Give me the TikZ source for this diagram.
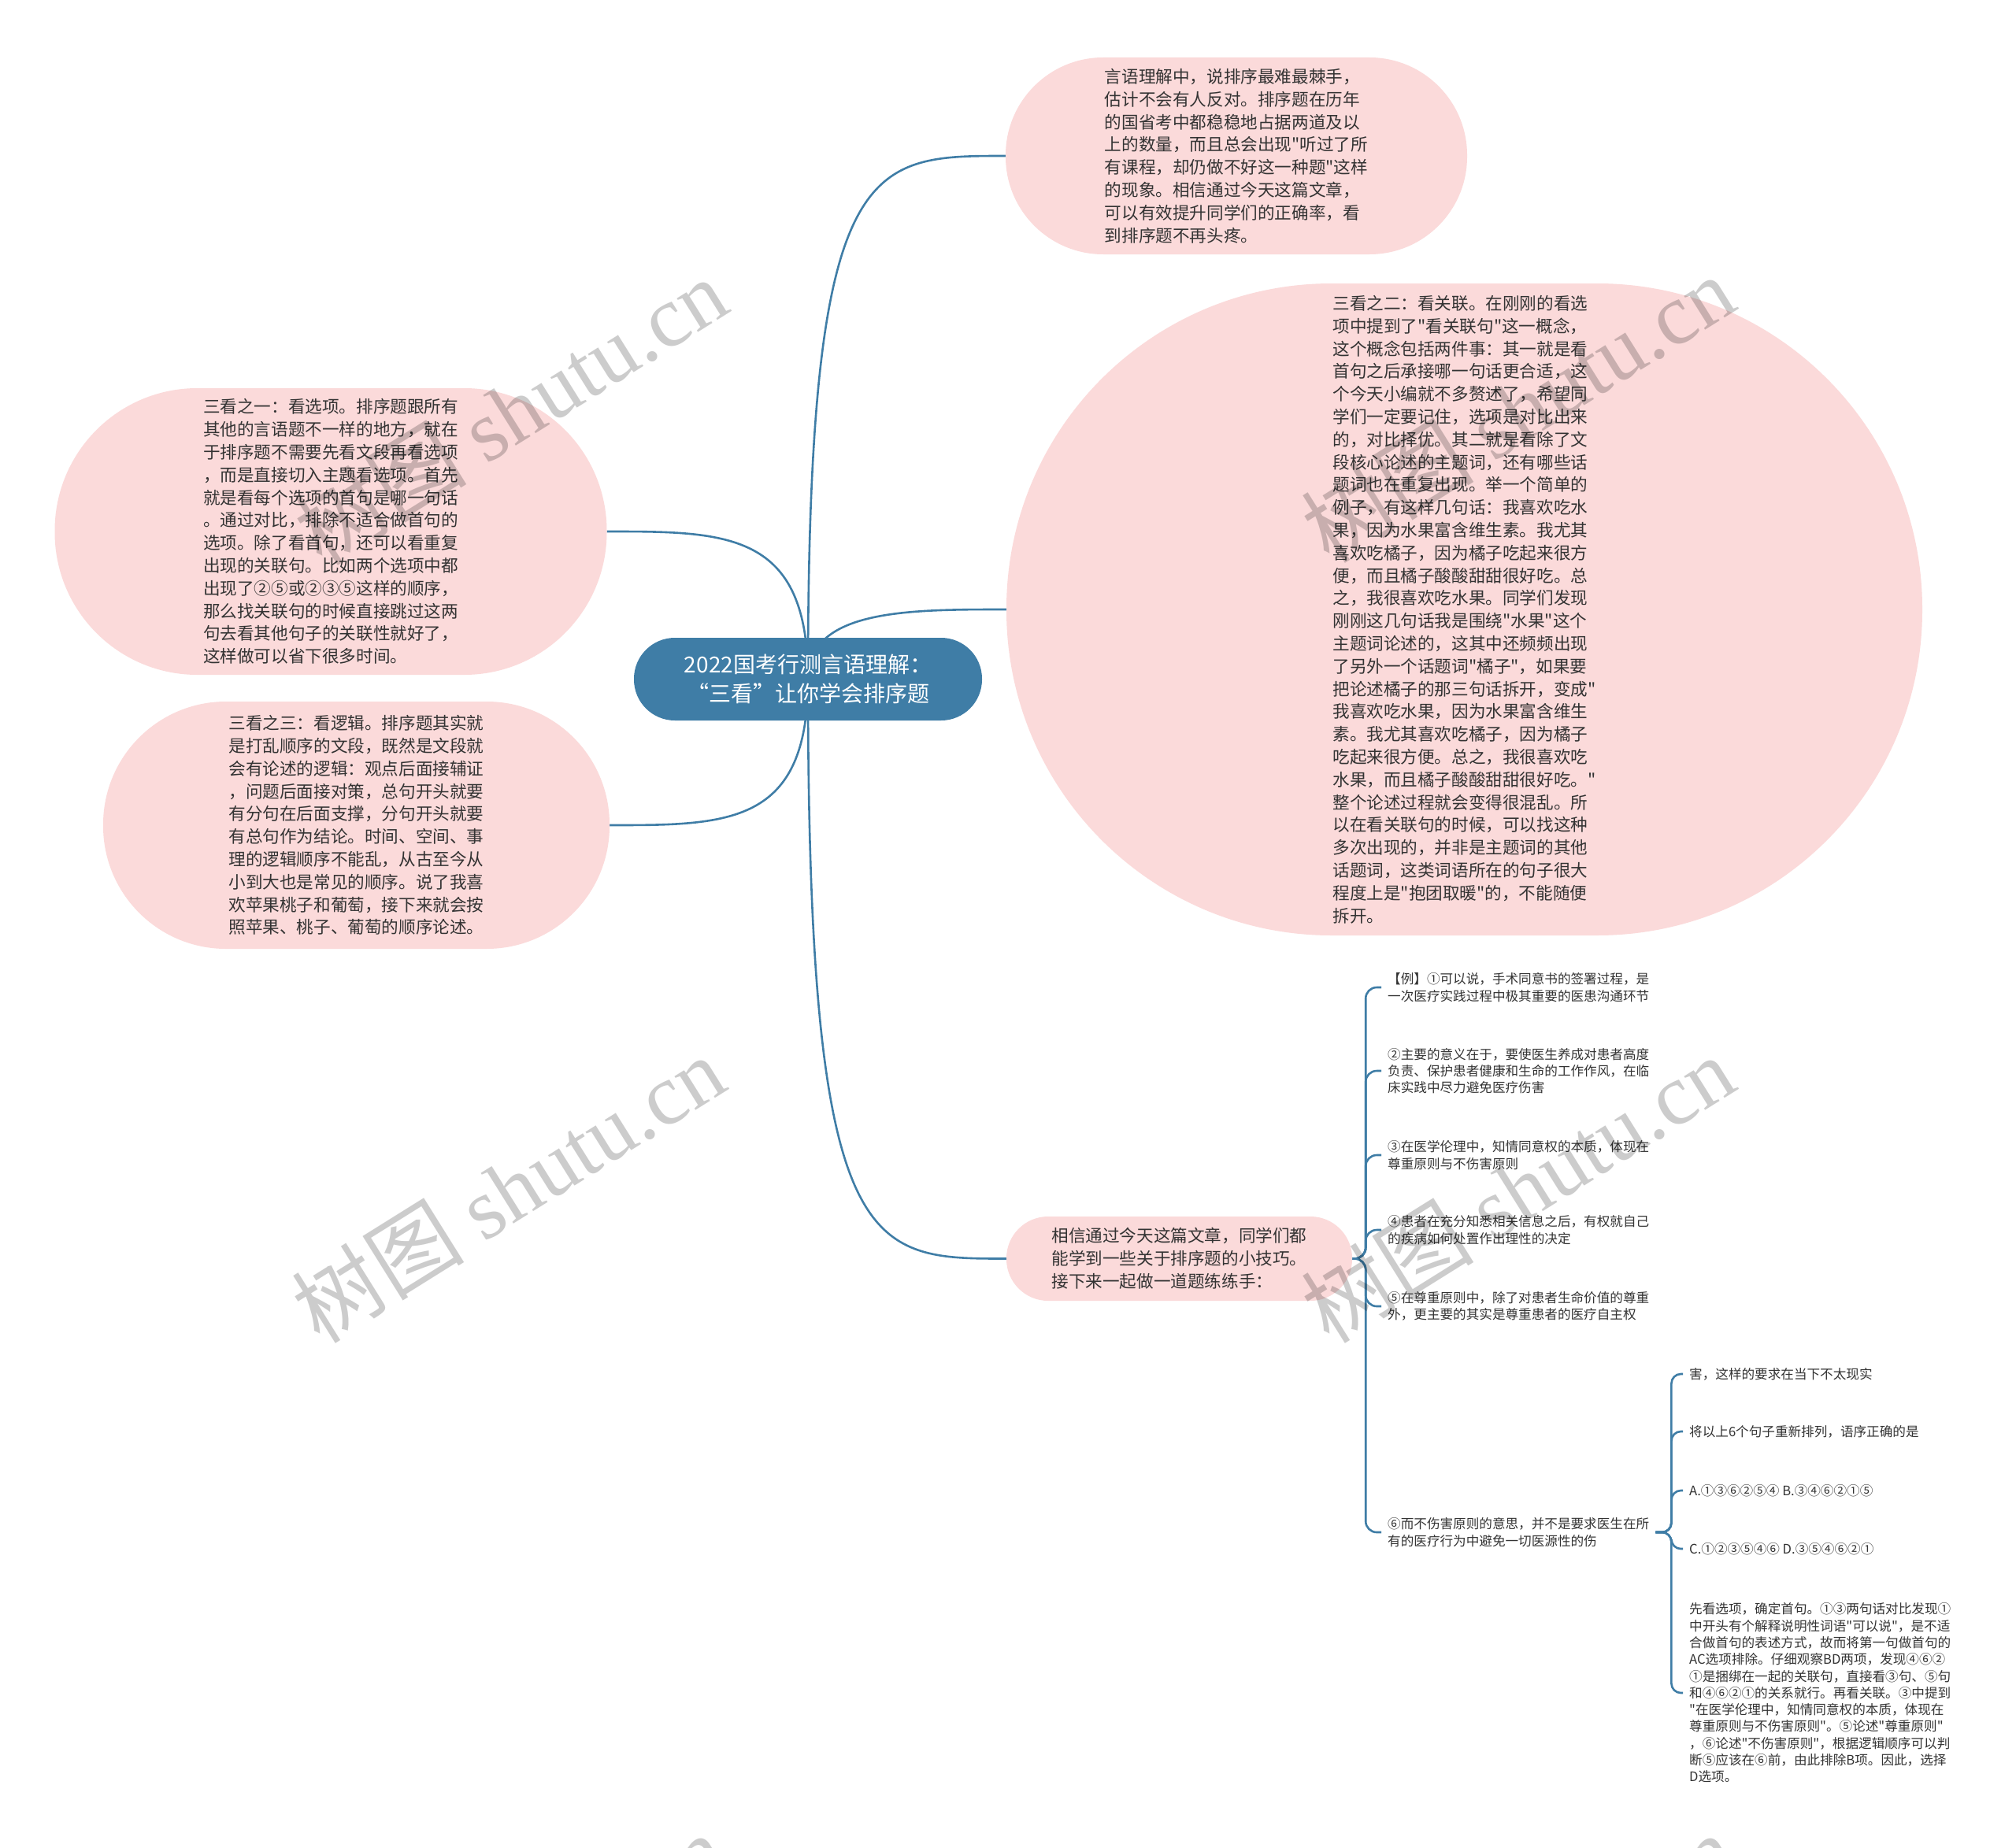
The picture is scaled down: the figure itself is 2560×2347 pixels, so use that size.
\documentclass[tikz,border=0pt]{standalone}
\usepackage{fontspec}
\setmainfont{Noto Sans CJK SC}[Ligatures=TeXOff]
\newfontfamily\wmcjk{Noto Sans CJK SC}
\newfontfamily\wmlat{Liberation Serif}
\usetikzlibrary{backgrounds,calc}
\definecolor{pinkbg}{HTML}{FBDADA}
\definecolor{mainblue}{HTML}{3F7DA6}
\definecolor{txt}{HTML}{333333}
\newcommand{\fwq}[1]{{\addfontfeature{CharacterWidth=Full}#1}}
\begin{document}
\begin{tikzpicture}[x=1pt,y=-1pt,
  bubble/.style={rectangle, fill=pinkbg, draw=none, text=txt, align=left, inner sep=0pt,
    font=\fontsize{21.6}{28.8}\selectfont},
  rootbox/.style={rectangle, fill=mainblue, draw=none, text=white, align=center, inner sep=0pt,
    font=\fontsize{28}{37}\selectfont},
  itemtext/.style={text=txt, align=left, inner xsep=8pt, inner ysep=0pt, anchor=west,
    font=\fontsize{16.6}{21.3}\selectfont},
  conn/.style={draw=mainblue, line width=2.6pt},
  wm/.style={rotate=32, text=black, opacity=0.2, font=\fontsize{110}{120}\selectfont}
]
\useasboundingbox (0,0) rectangle (2560,2347);

% root
\node[rootbox, minimum width=442pt, minimum height=105pt, rounded corners=52pt] (c) at (1026,862.5)
 {2022国考行测言语理解：\\\fwq{“}三看\fwq{”}让你学会排序题};

% top bubble
\node[bubble, minimum width=586pt, minimum height=250pt, rounded corners=124pt] (t) at (1570,198)
{言语理解中，说排序最难最棘手，\\
估计不会有人反对。排序题在历年\\
的国省考中都稳稳地占据两道及以\\
上的数量，而且总会出现"听过了所\\
有课程，却仍做不好这一种题"这样\\
的现象。相信通过今天这篇文章，\\
可以有效提升同学们的正确率，看\\
到排序题不再头疼。};

% big right bubble
\node[bubble, minimum width=1163pt, minimum height=828pt, rounded corners=413pt] (r) at (1859.5,774)
{三看之二：看关联。在刚刚的看选\\
项中提到了"看关联句"这一概念，\\
这个概念包括两件事：其一就是看\\
首句之后承接哪一句话更合适，这\\
个今天小编就不多赘述了，希望同\\
学们一定要记住，选项是对比出来\\
的，对比择优。其二就是看除了文\\
段核心论述的主题词，还有哪些话\\
题词也在重复出现。举一个简单的\\
例子，有这样几句话：我喜欢吃水\\
果，因为水果富含维生素。我尤其\\
喜欢吃橘子，因为橘子吃起来很方\\
便，而且橘子酸酸甜甜很好吃。总\\
之，我很喜欢吃水果。同学们发现\\
刚刚这几句话我是围绕"水果"这个\\
主题词论述的，这其中还频频出现\\
了另外一个话题词"橘子"，如果要\\
把论述橘子的那三句话拆开，变成"\\
我喜欢吃水果，因为水果富含维生\\
素。我尤其喜欢吃橘子，因为橘子\\
吃起来很方便。总之，我很喜欢吃\\
水果，而且橘子酸酸甜甜很好吃。"\\
整个论述过程就会变得很混乱。所\\
以在看关联句的时候，可以找这种\\
多次出现的，并非是主题词的其他\\
话题词，这类词语所在的句子很大\\
程度上是"抱团取暖"的，不能随便\\
拆开。};

% left bubble 1
\node[bubble, minimum width=701pt, minimum height=364pt, rounded corners=181pt] (l1) at (420,675)
{三看之一：看选项。排序题跟所有\\
其他的言语题不一样的地方，就在\\
于排序题不需要先看文段再看选项\\
，而是直接切入主题看选项。首先\\
就是看每个选项的首句是哪一句话\\
。通过对比，排除不适合做首句的\\
选项。除了看首句，还可以看重复\\
出现的关联句。比如两个选项中都\\
出现了②⑤或②③⑤这样的顺序，\\
那么找关联句的时候直接跳过这两\\
句去看其他句子的关联性就好了，\\
这样做可以省下很多时间。};

% left bubble 2
\node[bubble, minimum width=643pt, minimum height=314pt, rounded corners=156pt] (l2) at (452.5,1048)
{三看之三：看逻辑。排序题其实就\\
是打乱顺序的文段，既然是文段就\\
会有论述的逻辑：观点后面接辅证\\
，问题后面接对策，总句开头就要\\
有分句在后面支撑，分句开头就要\\
有总句作为结论。时间、空间、事\\
理的逻辑顺序不能乱，从古至今从\\
小到大也是常见的顺序。说了我喜\\
欢苹果桃子和葡萄，接下来就会按\\
照苹果、桃子、葡萄的顺序论述。};

% bottom node
\node[bubble, minimum width=439pt, minimum height=107pt, rounded corners=53pt] (b) at (1497.5,1598.5)
{相信通过今天这篇文章，同学们都\\
能学到一些关于排序题的小技巧。\\
接下来一起做一道题练练手：};

% items
\node[itemtext] (i1) at (1754,1254) {【例】①可以说，手术同意书的签署过程，是\\一次医疗实践过程中极其重要的医患沟通环节};
\node[itemtext] (i2) at (1754,1360) {②主要的意义在于，要使医生养成对患者高度\\负责、保护患者健康和生命的工作作风，在临\\床实践中尽力避免医疗伤害};
\node[itemtext] (i3) at (1754,1467) {③在医学伦理中，知情同意权的本质，体现在\\尊重原则与不伤害原则};
\node[itemtext] (i4) at (1754,1562) {④患者在充分知悉相关信息之后，有权就自己\\的疾病如何处置作出理性的决定};
\node[itemtext] (i5) at (1754,1659) {⑤在尊重原则中，除了对患者生命价值的尊重\\外，更主要的其实是尊重患者的医疗自主权};
\node[itemtext] (i6) at (1754,1946) {⑥而不伤害原则的意思，并不是要求医生在所\\有的医疗行为中避免一切医源性的伤};

\node[itemtext] (k1) at (2137,1745) {害，这样的要求在当下不太现实};
\node[itemtext] (k2) at (2137,1818) {将以上6个句子重新排列，语序正确的是};
\node[itemtext] (k3) at (2137,1893) {A.①③⑥②⑤④ B.③④⑥②①⑤};
\node[itemtext] (k4) at (2137,1967) {C.①②③⑤④⑥ D.③⑤④⑥②①};
\node[itemtext] (k5) at (2137,2150) {先看选项，确定首句。①③两句话对比发现①\\
中开头有个解释说明性词语"可以说"，是不适\\
合做首句的表述方式，故而将第一句做首句的\\
AC选项排除。仔细观察BD两项，发现④⑥②\\
①是捆绑在一起的关联句，直接看③句、⑤句\\
和④⑥②①的关系就行。再看关联。③中提到\\
"在医学伦理中，知情同意权的本质，体现在\\
尊重原则与不伤害原则"。⑤论述"尊重原则"\\
，⑥论述"不伤害原则"，根据逻辑顺序可以判\\
断⑤应该在⑥前，由此排除B项。因此，选择\\
D选项。};

\coordinate (bj) at ($(b.east)+(17,0)$);
\coordinate (sj) at ($(i6.east)+(20,0)$);

\begin{scope}[on background layer]
  \fill[white] (0,0) rectangle (2560,2347);
  \draw[conn] (c.center) .. controls (c.center |- t.west) and ($(c.center |- t.west)!0.3!(t.west)$) .. (t.west);
  \draw[conn] (c.center) .. controls (c.center |- r.west) and ($(c.center |- r.west)!0.5!(r.west)$) .. (r.west);
  \draw[conn] (c.center) .. controls (c.center |- l1.east) and ($(c.center |- l1.east)!0.4!(l1.east)$) .. (l1.east);
  \draw[conn] (c.center) .. controls (c.center |- l2.east) and ($(c.center |- l2.east)!0.4!(l2.east)$) .. (l2.east);
  \draw[conn] (c.center) .. controls (c.center |- b.west) and ($(c.center |- b.west)!0.3!(b.west)$) .. (b.west);
  \foreach \n in {i1,i2,i3,i4,i5,i6}
    \draw[conn, rounded corners=14pt] (b.east) -- (bj) |- (\n.west);
  \foreach \n in {k1,k2,k3,k4,k5}
    \draw[conn, rounded corners=12pt] (i6.east) -- (sj) |- (\n.west);
\end{scope}

% watermarks
\begin{scope}
  \clip (0,0) rectangle (2560,2347);
  \foreach \p in {(648,522),(645,1510),(1927,519),(1927,1510),(645,2498),(1927,2498)}
    \node[wm] at \p {\wmcjk 树图 \wmlat shutu.cn};
\end{scope}
\end{tikzpicture}
\end{document}
